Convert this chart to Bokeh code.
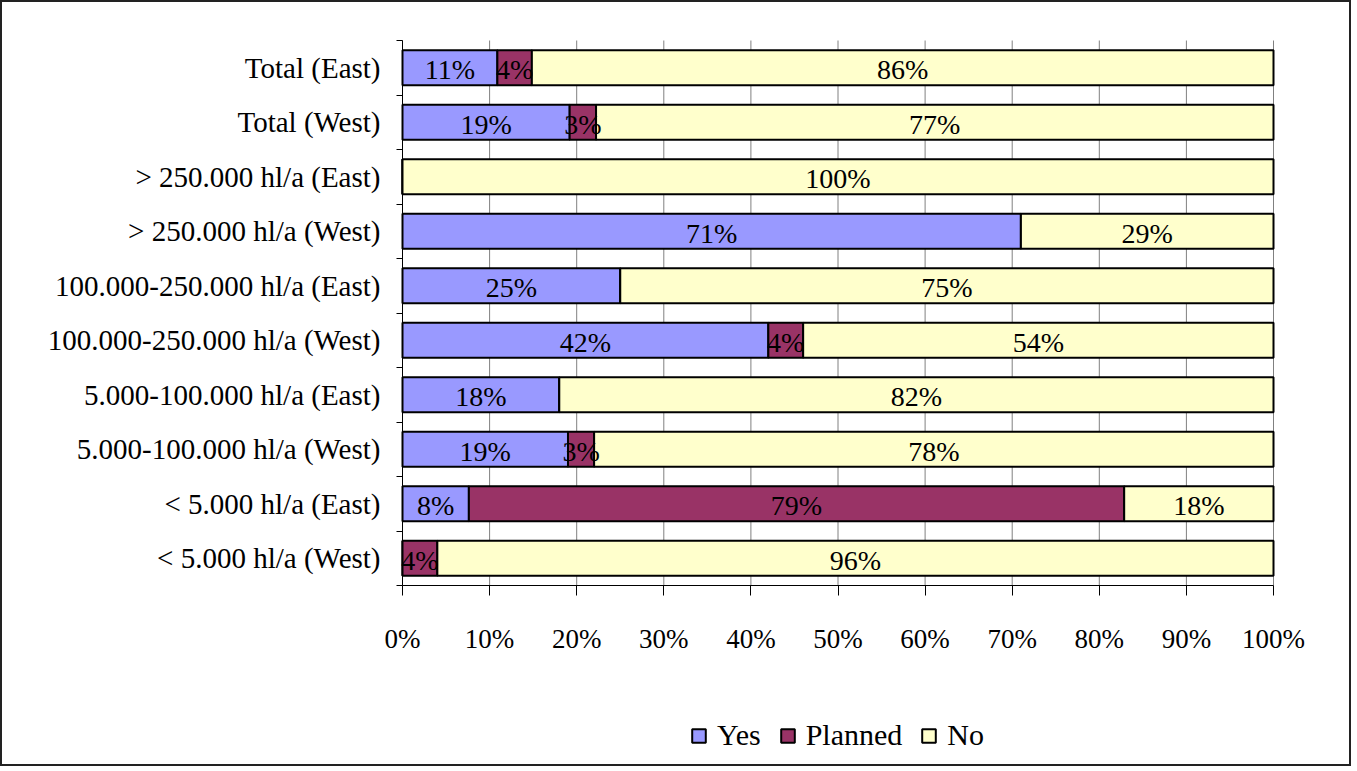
from bokeh.plotting import figure
from bokeh.models import FixedTicker, Legend, LegendItem, ColumnDataSource, Range1d
from bokeh.embed import file_html
from bokeh.resources import INLINE
from bokeh.core.properties import value

# ---- data (top to bottom as displayed) ----
categories = [
    "Total (East)",
    "Total (West)",
    "> 250.000 hl/a (East)",
    "> 250.000 hl/a (West)",
    "100.000-250.000 hl/a (East)",
    "100.000-250.000 hl/a (West)",
    "5.000-100.000 hl/a (East)",
    "5.000-100.000 hl/a (West)",
    "< 5.000 hl/a (East)",
    "< 5.000 hl/a (West)",
]
yes = [11, 19, 0, 71, 25, 42, 18, 19, 8, 0]
planned = [4, 3, 0, 0, 0, 4, 0, 3, 79, 4]
no = [86, 77, 100, 29, 75, 54, 82, 78, 18, 96]
series_names = ["Yes", "Planned", "No"]
series_colors = ["#9999FF", "#993366", "#FFFFCC"]
x_ticks = [0, 10, 20, 30, 40, 50, 60, 70, 80, 90, 100]
x_tick_labels = ["0%", "10%", "20%", "30%", "40%", "50%", "60%", "70%", "80%", "90%", "100%"]

FONT = "Liberation Serif"
n = len(categories)
ys = [n - 1 - i + 0.5 for i in range(n)]

# layout (pixels, relative to the figure): the plotting frame covers the whole
# figure, the chart area sits inside it and the axes are fixed at 0.
W, H = 1351, 766
AREA_L, AREA_R = 400, 1271          # x pixel of 0% and 100%
AREA_T, AREA_B = 38, 583            # y pixel of top and bottom of the category area
px_x = 100.0 / (AREA_R - AREA_L)
px_y = n / (AREA_B - AREA_T)
x_lo, x_hi = -AREA_L * px_x, 100 + (W - AREA_R) * px_x
y_lo, y_hi = -(H - AREA_B) * px_y, n + AREA_T * px_y

p = figure(
    width=W, height=H,
    output_backend="svg", toolbar_location=None,
    x_range=Range1d(x_lo, x_hi), y_range=Range1d(y_lo, y_hi),
    min_border=0, min_border_left=0, min_border_right=0, min_border_top=0, min_border_bottom=0,
)
p.styles = {"border": "2px solid #222222"}
p.outline_line_color = None
p.background_fill_color = "white"

# vertical gridlines limited to the category area
p.segment(x0=x_ticks, y0=[0] * len(x_ticks), x1=x_ticks, y1=[n] * len(x_ticks),
          line_color="#808080", line_width=1)

# normalised stacked shares
series = [yes, planned, no]
totals = [sum(s[i] for s in series) for i in range(n)]
renderers = []
left = [0.0] * n
label_x, label_y, label_t = [], [], []
for name, vals, col in zip(series_names, series, series_colors):
    share = [100.0 * v / t for v, t in zip(vals, totals)]
    right = [l + s for l, s in zip(left, share)]
    src = ColumnDataSource(dict(y=ys, left=left, right=right))
    r = p.hbar(y="y", left="left", right="right", height=0.64, source=src,
               fill_color=col, line_color="black", line_width=2)
    renderers.append(r)
    for i in range(n):
        if vals[i] > 0:
            label_x.append((left[i] + right[i]) / 2)
            label_y.append(ys[i])
            label_t.append(f"{vals[i]}%")
    left = right

lsrc = ColumnDataSource(dict(x=label_x, y=label_y, t=label_t))
p.text(x="x", y="y", text="t", source=lsrc, text_align="center", text_baseline="middle",
       text_font=value(FONT), text_font_size="28px", text_color="black", y_offset=2)

# x axis fixed at the bottom of the category area
p.xaxis.fixed_location = 0
p.xaxis.bounds = (0, 100)
p.xaxis.ticker = FixedTicker(ticks=x_ticks)
p.xaxis.major_label_overrides = {t: l for t, l in zip(x_ticks, x_tick_labels)}
p.xaxis.major_tick_out = 10
p.xaxis.major_tick_in = 0
p.xaxis.minor_tick_line_color = None
p.xaxis.axis_line_color = "black"
p.xaxis.major_tick_line_color = "black"
p.xaxis.major_label_text_font = FONT
p.xaxis.major_label_text_font_size = "27px"
p.xaxis.major_label_text_color = "black"
p.xaxis.major_label_standoff = 28

# y axis fixed at 0 %
p.yaxis.fixed_location = 0
p.yaxis.bounds = (0, n)
p.yaxis.ticker = FixedTicker(ticks=ys, minor_ticks=list(range(0, n + 1)))
p.yaxis.major_label_overrides = {y: c for y, c in zip(ys, categories)}
p.yaxis.major_tick_line_color = None
p.yaxis.major_tick_out = 0
p.yaxis.major_tick_in = 0
p.yaxis.minor_tick_out = 6
p.yaxis.minor_tick_in = 0
p.yaxis.minor_tick_line_color = "black"
p.yaxis.axis_line_color = "black"
p.yaxis.major_label_text_font = FONT
p.yaxis.major_label_text_font_size = "29px"
p.yaxis.major_label_text_color = "black"
p.yaxis.major_label_standoff = 16

p.xgrid.grid_line_color = None
p.ygrid.grid_line_color = None

legend = Legend(
    items=[LegendItem(label=nm, renderers=[r]) for nm, r in zip(series_names, renderers)],
    location=(688, 16), orientation="horizontal",
    glyph_width=17, glyph_height=17, label_standoff=10, spacing=18,
    padding=0, margin=0, border_line_color=None, background_fill_alpha=0,
    label_text_font=FONT, label_text_font_size="30px", label_text_color="black",
)
p.add_layout(legend, "center")

open("out.html", "w").write(file_html(p, INLINE))
